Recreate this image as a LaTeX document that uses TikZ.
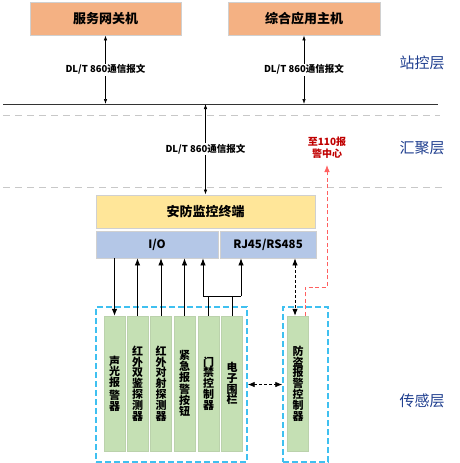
\documentclass[tikz,border=0pt]{standalone}
\usepackage{fontspec}
\setmainfont{Noto Sans CJK SC}
\usetikzlibrary{arrows.meta,calc}
\definecolor{orangefill}{HTML}{F4B183}
\definecolor{yellowfill}{HTML}{FFE699}
\definecolor{bluefill}{HTML}{B4C7E7}
\definecolor{greenfill}{HTML}{C5E0B4}
\definecolor{boxgray}{HTML}{D0D0D0}
\definecolor{layerblue}{HTML}{203F8F}
\definecolor{darkred}{HTML}{C00000}
\definecolor{lightred}{HTML}{FF6060}
\definecolor{cyanline}{HTML}{3FC0F0}
\definecolor{sepgray}{HTML}{C8C8C8}
\begin{document}
\begin{tikzpicture}[x=1pt,y=-1pt,
  hostbox/.style={draw=boxgray, line width=0.8pt, fill=orangefill, inner sep=0pt,
    minimum height=33, font=\bfseries\fontsize{13}{15}\selectfont},
  termbox/.style={draw=boxgray, line width=0.8pt, fill=yellowfill, inner sep=0pt,
    font=\bfseries\fontsize{13}{15}\selectfont},
  portbox/.style={draw=boxgray, line width=0.8pt, fill=bluefill, inner sep=0pt,
    minimum height=27, font=\bfseries\fontsize{11.5}{13}\selectfont},
  devbox/.style={fill=greenfill, draw=greenfill!85!gray, line width=0.4pt, inner sep=0pt,
    minimum width=21, minimum height=135, align=center,
    font=\bfseries\fontsize{11}{10.8}\selectfont},
  groupbox/.style={draw=cyanline, line width=1.4pt, dash pattern=on 6pt off 3pt, inner sep=0pt},
  msglabel/.style={fill=white, inner sep=1pt, font=\bfseries\fontsize{9.5}{11}\selectfont},
  layerlabel/.style={text=layerblue, font=\fontsize{15}{17}\selectfont},
  smallarr/.style={line width=0.7pt, {Latex[length=5pt,width=3.5pt]}-{Latex[length=5pt,width=3.5pt]}},
  wire/.style={line width=0.8pt},
  wirearr/.style={line width=0.8pt, -{Latex[length=7pt,width=5.5pt]}},
  sepline/.style={draw=sepgray, line width=0.8pt, dash pattern=on 7pt off 5pt}
]
\useasboundingbox (0,0) rectangle (460,463);

% host boxes
\node[hostbox, minimum width=151] (gw) at (105.5,18.5) {服务网关机};
\node[hostbox, minimum width=152] (app) at (304,18.5) {综合应用主机};

% bus and separators
\coordinate (busL) at (3,104);
\coordinate (busR) at (438,104);
\draw[line width=1pt, draw=black!80] (busL) -- (busR);
\coordinate (sep1L) at (3,115);
\coordinate (sep1R) at (440,115);
\draw[sepline] (sep1L) -- (sep1R);
\coordinate (sep2L) at (3,187);
\coordinate (sep2R) at (445,187);
\draw[sepline] (sep2L) -- (sep2R);

% terminal and ports
\node[termbox, minimum width=219, minimum height=33] (term) at (205.5,211.5) {安防监控终端};
\node[portbox, minimum width=122] (io) at (157,244.5) {I/O};
\node[portbox, minimum width=96] (rj) at (268,244.5) {RJ45/RS485};

% messages
\draw[smallarr] (gw.south) -- (gw.south |- busL)
  node[msglabel, midway] (m1) {DL/T 860通信报文};
\draw[smallarr] (app.south) -- (app.south |- busL)
  node[msglabel, midway] (m2) {DL/T 860通信报文};
\draw[smallarr] (term.north |- busL) -- (term.north)
  node[msglabel, midway] (m3) {DL/T 860通信报文};

% layer labels
\node[layerlabel] (l1) at (422,63) {站控层};
\node[layerlabel] (l2) at (422,148) {汇聚层};
\node[layerlabel] (l3) at (422,401) {传感层};

% group boxes
\node[groupbox, minimum width=151, minimum height=155] (gl) at (171.5,384.5) {};
\node[groupbox, minimum width=45, minimum height=155] (gr) at (305.5,384.5) {};

% devices
\node[devbox] (g1) at (114.5,383.5) {声\\光\\报\\[2pt]警\\器};
\node[devbox] (g2) at (137.5,383.5) {红\\外\\双\\鉴\\探\\测\\器};
\node[devbox] (g3) at (161,383.5) {红\\外\\对\\射\\探\\测\\器};
\node[devbox] (g4) at (184.5,383.5) {紧\\急\\报\\[2pt]警\\按\\钮};
\node[devbox] (g5) at (208.5,383.5) {门\\禁\\控\\制\\器};
\node[devbox] (g6) at (232,383.5) {电\\子\\围\\栏};
\node[devbox] (g7) at (298,383.5) {防\\盗\\报\\警\\控\\制\\器};

% wires
\draw[wirearr] (g1.north |- io.south) -- (g1.north);
\draw[wirearr] (g2.north) -- (g2.north |- io.south);
\draw[wirearr] (g3.north) -- (g3.north |- io.south);
\draw[wirearr] (g4.north) -- (g4.north |- io.south);
\coordinate (j5) at (203,296);
\coordinate (j6) at (241,296);
\draw[wire] (g5.north) -- (g5.north |- j5);
\draw[wire] (g6.north) -- (g6.north |- j5);
\draw[wire] (j5) -- (j6);
\draw[wirearr] (j5) -- (j5 |- io.south);
\draw[wirearr] (j6) -- (j6 |- rj.south);

% RJ45 to alarm controller
\coordinate (rjp) at ($(rj.south)+(27,0)$);
\draw[line width=0.8pt, dash pattern=on 3pt off 2pt,
  {Latex[length=7pt,width=5.5pt]}-{Latex[length=7pt,width=5.5pt]}]
  (rjp) -- (rjp |- g7.north);

% red link to 110
\coordinate (r0) at ($(g7.north)+(7,0)$);
\coordinate (r1) at (305,287);
\coordinate (r2) at (327,287);
\coordinate (to110) at (327,165);
\draw[draw=lightred, line width=0.8pt, dash pattern=on 4pt off 2.5pt,
  -{Latex[length=7pt,width=5.5pt]}] (r0) -- (r1) -- (r2) -- (to110);
\node[text=darkred, align=center, inner sep=0pt,
  font=\bfseries\fontsize{10}{11.5}\selectfont] (c110) at (327,147.5) {至110报\\警中心};

% between groups
\draw[line width=0.8pt, dash pattern=on 3pt off 2pt,
  {Latex[length=7pt,width=5.5pt]}-{Latex[length=7pt,width=5.5pt]}]
  (gl.east) -- (gr.west);
\end{tikzpicture}
\end{document}
